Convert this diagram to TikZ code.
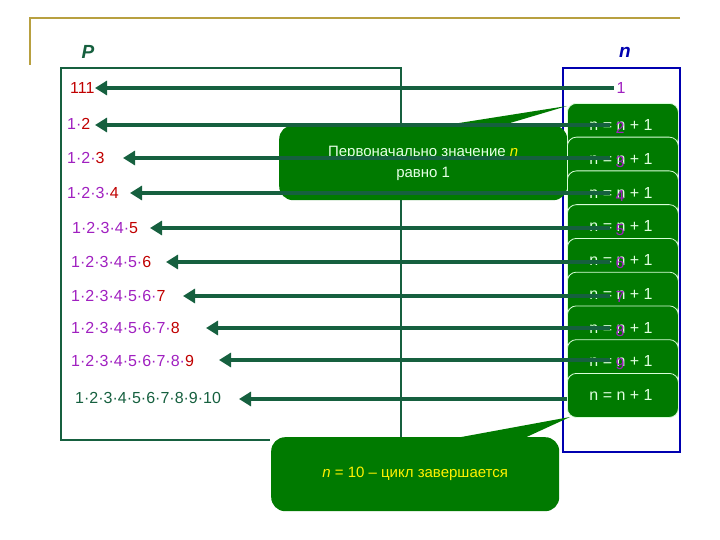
\documentclass[tikz,border=0pt]{standalone}
\usepackage{fontspec}
\setmainfont{Liberation Sans}
\usetikzlibrary{arrows.meta}
\definecolor{dg}{HTML}{16603F}
\definecolor{bg}{HTML}{007A00}
\definecolor{pu}{HTML}{A020C0}
\definecolor{rd}{HTML}{C00000}
\definecolor{gold}{HTML}{B8A040}
\definecolor{bl}{HTML}{0000B0}
\tikzset{
 arr/.style={draw=dg,line width=3.5pt,-{Triangle[length=12pt,width=14pt]}},
 nbox/.style={fill=bg,draw=white!85!green,line width=0.8pt,rounded corners=9pt,minimum width=111pt,minimum height=44pt,anchor=north west,inner sep=0pt},
 btxt/.style={text=white!88!green,font=\fontsize{16}{18}\selectfont},
 ltxt/.style={anchor=west,font=\fontsize{16}{18}\selectfont,inner sep=0pt},
 dig/.style={text=pu,font=\fontsize{16}{18}\selectfont,inner sep=0pt},
 call/.style={fill=bg,rounded corners=14pt,inner sep=0pt}
}
\begin{document}
\begin{tikzpicture}[x=1pt,y=-1pt]
\useasboundingbox (0,0) rectangle (720,540);
\draw[gold,line width=1.5pt] (680,18) -- (30,18) -- (30,65);
\node[text=dg,font=\bfseries\itshape\fontsize{19}{21}\selectfont] (P) at (88,52) {P};
\node[text=bl,font=\bfseries\itshape\fontsize{19}{21}\selectfont] (N) at (625,52) {n};
\draw[dg,line width=1.5pt] (270,440) -- (61,440) -- (61,68) -- (401,68) -- (401,440);
\draw[bl,line width=2pt] (563,68) rectangle (680,452);
% callouts
\fill[bg] (440,126) -- (567,106) -- (500,126) -- cycle;
\node[call,minimum width=288pt,minimum height=75pt,anchor=north west] (c1) at (279,125) {};
\node[text=white!90!green,font=\fontsize{15}{21}\selectfont,align=center] (c1t) at (c1.center) [yshift=-1pt] {Первоначально значение \textcolor{yellow}{\itshape n}\\равно 1};
\fill[bg] (445,440) -- (570,417) -- (520,440) -- cycle;
\node[call,minimum width=288pt,minimum height=74pt,anchor=north west] (c2) at (271,437) {};
\node[text=yellow,font=\fontsize{15}{18}\selectfont] (c2t) at (c2.center) {\itshape n\upshape{} = 10 -- цикл завершается};
% boxes
\foreach \k in {0,...,8}{
  \node[nbox] (b\k) at (567,103+33.75*\k) {};
  \node[btxt] (bt\k) at (621,125+33.75*\k) {n = n + 1};
}
% left texts
\node[ltxt] (t1) at (70,88) {\textcolor{rd}{111}};
\node[ltxt] (t2) at (67,124) {\textcolor{pu}{1·}\textcolor{rd}{2}};
\node[ltxt] (t3) at (67,158) {\textcolor{pu}{1·2·}\textcolor{rd}{3}};
\node[ltxt] (t4) at (67,193) {\textcolor{pu}{1·2·3·}\textcolor{rd}{4}};
\node[ltxt] (t5) at (72,228) {\textcolor{pu}{1·2·3·4·}\textcolor{rd}{5}};
\node[ltxt] (t6) at (71,262) {\textcolor{pu}{1·2·3·4·5·}\textcolor{rd}{6}};
\node[ltxt] (t7) at (71,296) {\textcolor{pu}{1·2·3·4·5·6·}\textcolor{rd}{7}};
\node[ltxt] (t8) at (71,328) {\textcolor{pu}{1·2·3·4·5·6·7·}\textcolor{rd}{8}};
\node[ltxt] (t9) at (71,361) {\textcolor{pu}{1·2·3·4·5·6·7·8·}\textcolor{rd}{9}};
\node[ltxt,text=dg] (t10) at (75,398) {1·2·3·4·5·6·7·8·9·10};
% right sources
\node[dig] (d1) at (621,88) {1};
\coordinate (s1) at (614,88);
\foreach \k/\y in {2/125,3/158,4/193,5/228,6/262,7/296,8/328,9/360}{
  \coordinate (s\k) at (610,\y);
}
\coordinate (s10) at (567,399);
\foreach \k/\xt in {1/95,2/95,3/123,4/130,5/150,6/166,7/183,8/206,9/219,10/239}{
  \coordinate (e\k) at (\xt,0);
  \draw[arr] (s\k) -- (e\k |- s\k);
}
\foreach \k/\y in {2/128,3/162,4/196,5/230,6/263,7/297,8/331,9/364}{
  \node[dig] (d\k) at (620,\y) {\k};
}
\end{tikzpicture}
\end{document}
